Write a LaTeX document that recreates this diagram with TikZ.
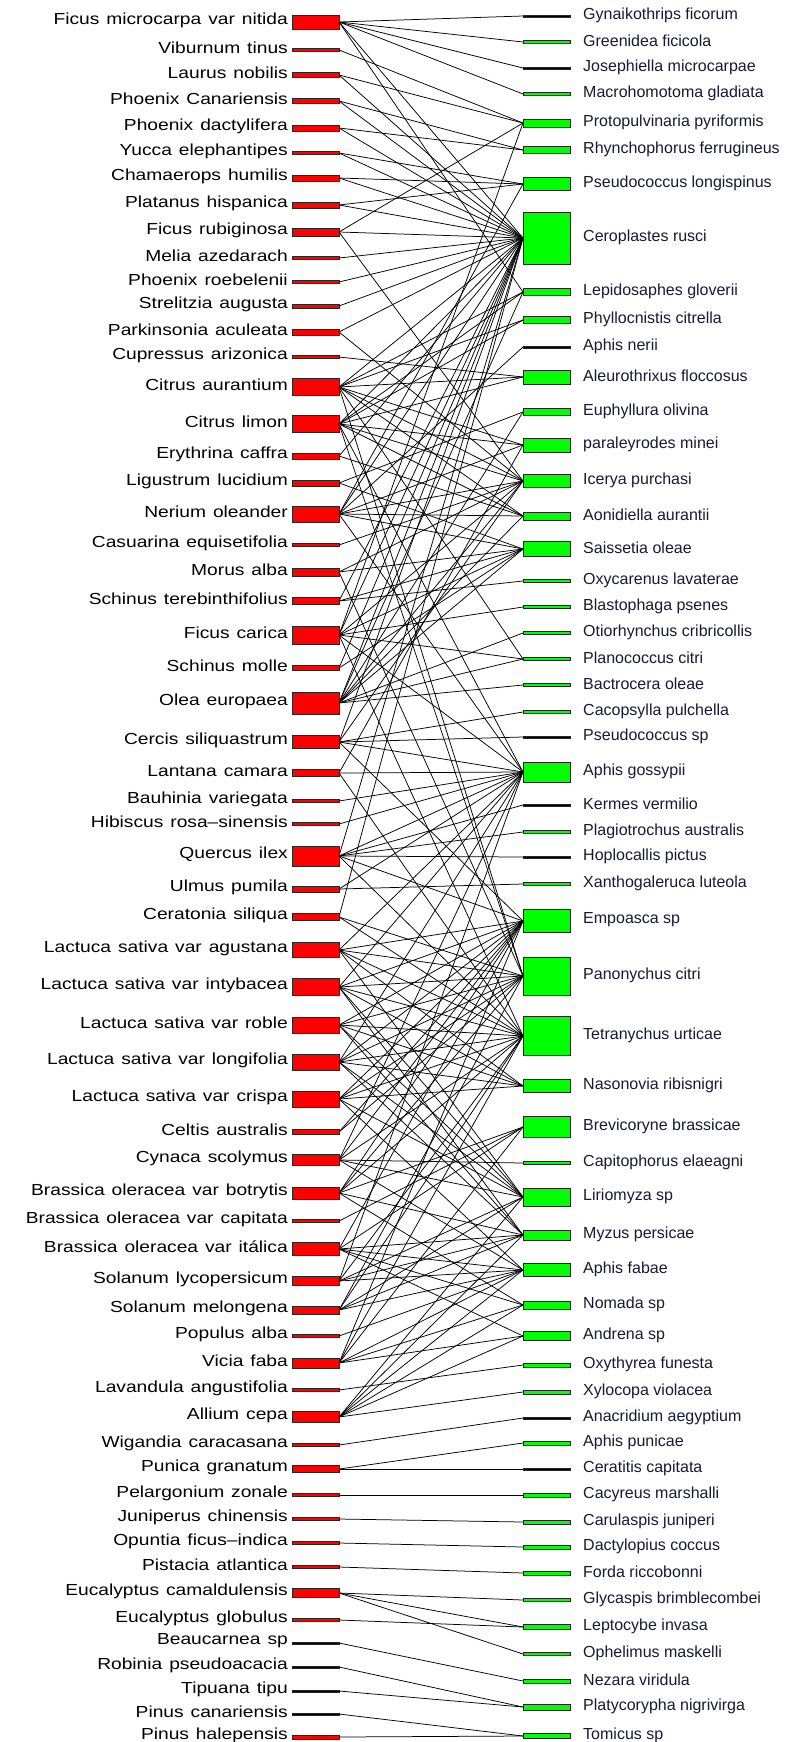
\documentclass[tikz,border=0pt]{standalone}
\usepackage{fontspec}
\newfontfamily\lfont[FakeStretch=1.2,WordSpace=1.3]{Liberation Sans}
\newfontfamily\rfont{Liberation Sans}
\definecolor{rtext}{RGB}{25,25,55}
\begin{document}
\begin{tikzpicture}[x=1pt,y=-1pt,
  box/.style={rectangle, draw=black!85, line width=0.7pt, inner sep=0pt, outer sep=0pt, minimum width=47pt},
  ll/.style={anchor=east, inner sep=0pt, font=\lfont\fontsize{16}{18}\selectfont},
  rl/.style={anchor=west, inner sep=0pt, text=rtext, font=\rfont\fontsize{16}{18}\selectfont},
  edge/.style={draw=black, line width=0.75pt}]
\fill[white] (0,0) rectangle (785,1742);
\useasboundingbox (0,0) rectangle (785,1742);
% left nodes
\foreach \n/\y/\h/\c/\t in {
FMi/22/14/red/Ficus microcarpa var nitida,
Vib/50/3.5/red/Viburnum tinus,
Lau/75/4.5/red/Laurus nobilis,
PCa/101/5/red/Phoenix Canariensis,
PDa/128/6/red/Phoenix dactylifera,
Yuc/153/3.5/red/Yucca elephantipes,
Cha/178/6/red/Chamaerops humilis,
Pla/205/6/red/Platanus hispanica,
FRu/232/8/red/Ficus rubiginosa,
Mel/258/3.5/red/Melia azedarach,
PRo/282/3.5/red/Phoenix roebelenii,
Str/306/4/red/Strelitzia augusta,
Par/332/6/red/Parkinsonia aculeata,
Cup/357/3.5/red/Cupressus arizonica,
CAu/387/17/red/Citrus aurantium,
CLi/424/17/red/Citrus limon,
Ery/456/6/red/Erythrina caffra,
Lig/483/6/red/Ligustrum lucidium,
Ner/514/16/red/Nerium oleander,
Cas/545/3.5/red/Casuarina equisetifolia,
Mor/572/8/red/Morus alba,
STe/601/7/red/Schinus terebinthifolius,
FCa/635/18/red/Ficus carica,
SMo/668/5/red/Schinus molle,
Ole/703/22/red/Olea europaea,
Cer/742/13/red/Cercis siliquastrum,
Lan/773/7/red/Lantana camara,
Bau/801/3.5/red/Bauhinia variegata,
Hib/824/3.5/red/Hibiscus rosa–sinensis,
Que/856/20/red/Quercus ilex,
Ulm/889/6/red/Ulmus pumila,
Cet/917/7/red/Ceratonia siliqua,
LAg/950/15/red/Lactuca sativa var agustana,
LIn/987/17/red/Lactuca sativa var intybacea,
LRo/1025/16/red/Lactuca sativa var roble,
LLo/1062/16/red/Lactuca sativa var longifolia,
LCr/1099/16/red/Lactuca sativa var crispa,
Cel/1132/5/red/Celtis australis,
Cyn/1160/11/red/Cynaca scolymus,
BBo/1193/12/red/Brassica oleracea var botrytis,
BCa/1221/3/red/Brassica oleracea var capitata,
BIt/1249/13/red/Brassica oleracea var itálica,
SLy/1281/9/red/Solanum lycopersicum,
SMe/1310/8/red/Solanum melongena,
Pop/1336/3.5/red/Populus alba,
Vic/1363/10/red/Vicia faba,
Lav/1390/3.5/red/Lavandula angustifolia,
All/1417/11/red/Allium cepa,
Wig/1445/3/red/Wigandia caracasana,
Pun/1469/7/red/Punica granatum,
Pel/1495/3.5/red/Pelargonium zonale,
Jun/1519/3.5/red/Juniperus chinensis,
Opu/1543/3.5/red/Opuntia ficus–indica,
Pis/1567/3.5/red/Pistacia atlantica,
ECa/1593/9/red/Eucalyptus camaldulensis,
EGl/1620/3.5/red/Eucalyptus globulus,
Bea/1643/1.8/black/Beaucarnea sp,
Rob/1667/1.8/black/Robinia pseudoacacia,
Tip/1691/1.8/black/Tipuana tipu,
PCn/1714/1.8/black/Pinus canariensis,
PHa/1737/4/red/Pinus halepensis}{
  \node[box, fill=\c, minimum height=\h pt] (\n) at (315.5,\y) {};
  \node[ll] (\n-t) at (288,\y-2) {\t};
}
% right nodes
\foreach \n/\y/\h/\c/\t in {
rGyn/16/1.8/black/Gynaikothrips ficorum,
rGre/42/3/green/Greenidea ficicola,
rJos/68/1.8/black/Josephiella microcarpae,
rMac/94/3/green/Macrohomotoma gladiata,
rPro/123/8/green/Protopulvinaria pyriformis,
rRhy/150/7/green/Rhynchophorus ferrugineus,
rPsl/184/13/green/Pseudococcus longispinus,
rCer/238/52/green/Ceroplastes rusci,
rLep/292/7/green/Lepidosaphes gloverii,
rPhy/320/7/green/Phyllocnistis citrella,
rAnr/347/1.8/black/Aphis nerii,
rAle/377/14/green/Aleurothrixus floccosus,
rEup/412/7/green/Euphyllura olivina,
rPmi/445/14/green/paraleyrodes minei,
rIce/481/13/green/Icerya purchasi,
rAon/516/8/green/Aonidiella aurantii,
rSai/549/15/green/Saissetia oleae,
rOxc/581/3/green/Oxycarenus lavaterae,
rBla/607/3/green/Blastophaga psenes,
rOti/633/3/green/Otiorhynchus cribricollis,
rPci/659/3/green/Planococcus citri,
rBac/685/3/green/Bactrocera oleae,
rCac/712/3/green/Cacopsylla pulchella,
rPsp/737/1.8/black/Pseudococcus sp,
rAgo/772/20/green/Aphis gossypii,
rKer/805/1.8/black/Kermes vermilio,
rPlg/832/3/green/Plagiotrochus australis,
rHop/857/1.8/black/Hoplocallis pictus,
rXan/884/3/green/Xanthogaleruca luteola,
rEmp/921/23/green/Empoasca sp,
rPan/976/38/green/Panonychus citri,
rTet/1036/39/green/Tetranychus urticae,
rNas/1086/13/green/Nasonovia ribisnigri,
rBre/1127/21/green/Brevicoryne brassicae,
rCap/1163/3/green/Capitophorus elaeagni,
rLir/1197/18/green/Liriomyza sp,
rMyz/1235/10/green/Myzus persicae,
rAfa/1270/13/green/Aphis fabae,
rNom/1305/8/green/Nomada sp,
rAnd/1336/9/green/Andrena sp,
rOxt/1365/4/green/Oxythyrea funesta,
rXyl/1392/4/green/Xylocopa violacea,
rAna/1418/1.8/black/Anacridium aegyptium,
rApu/1443/4/green/Aphis punicae,
rCca/1469/1.8/black/Ceratitis capitata,
rCma/1495/4/green/Cacyreus marshalli,
rCju/1522/4/green/Carulaspis juniperi,
rDac/1547/4/green/Dactylopius coccus,
rFor/1573/4/green/Forda riccobonni,
rGly/1600/3/green/Glycaspis brimblecombei,
rLin/1627/5/green/Leptocybe invasa,
rOph/1654/3/green/Ophelimus maskelli,
rNez/1681/4/green/Nezara viridula,
rPla/1707/6/green/Platycorypha nigrivirga,
rTom/1736/5/green/Tomicus sp}{
  \node[box, fill=\c, minimum height=\h pt] (\n) at (546.5,\y) {};
  \node[rl] (\n-t) at (583,\y-1) {\t};
}
% links
\foreach \a/\b in {
FMi/rGyn, FMi/rGre, FMi/rJos, FMi/rMac, FMi/rCer, FMi/rLep,
Vib/rPro, Lau/rPro, Lau/rCer, PCa/rRhy, PCa/rCer, PDa/rRhy, PDa/rCer,
Yuc/rPsl, Yuc/rCer, Cha/rPsl, Cha/rCer, Pla/rPsl, Pla/rCer,
FRu/rPro, FRu/rCer, FRu/rIce, Mel/rCer, PRo/rCer, Str/rCer,
Par/rCer, Par/rIce, Cup/rAle,
CAu/rCer, CAu/rLep, CAu/rPhy, CAu/rAle, CAu/rPmi, CAu/rIce, CAu/rAon, CAu/rPci, CAu/rPan,
CLi/rCer, CLi/rLep, CLi/rPhy, CLi/rAle, CLi/rPmi, CLi/rIce, CLi/rAon, CLi/rAgo, CLi/rPan,
Ery/rAon, Ery/rCer, Lig/rSai, Lig/rEup,
Ner/rAnr, Ner/rCer, Ner/rPsl, Ner/rPmi, Ner/rIce, Ner/rAon, Ner/rSai, Ner/rAgo,
Cas/rIce, Mor/rIce, Mor/rSai, Mor/rPan, STe/rOxc, STe/rCer, STe/rSai,
FCa/rBla, FCa/rCer, FCa/rPro, FCa/rIce, FCa/rSai, FCa/rPci, FCa/rTet, FCa/rAgo,
SMo/rCer, SMo/rSai,
Ole/rCer, Ole/rEup, Ole/rSai, Ole/rAon, Ole/rIce, Ole/rOti, Ole/rPci, Ole/rBac, Ole/rLep,
Cer/rCac, Cer/rPsp, Cer/rCer, Cer/rIce, Cer/rAgo, Cer/rEmp,
Lan/rAgo, Lan/rTet, Lan/rPmi, Bau/rAgo, Hib/rAgo,
Que/rKer, Que/rPlg, Que/rHop, Que/rAgo, Que/rCer, Que/rEmp, Que/rTet,
Ulm/rXan, Ulm/rAgo, Cet/rCer, Cet/rPan, Cet/rTet,
LAg/rAgo, LAg/rEmp, LAg/rPan, LAg/rTet, LAg/rNas, LAg/rLir,
LIn/rAgo, LIn/rEmp, LIn/rPan, LIn/rTet, LIn/rNas, LIn/rLir, LIn/rMyz,
LRo/rEmp, LRo/rPan, LRo/rTet, LRo/rNas, LRo/rLir, LRo/rMyz,
LLo/rAgo, LLo/rEmp, LLo/rPan, LLo/rTet, LLo/rNas, LLo/rLir, LLo/rMyz,
LCr/rEmp, LCr/rPan, LCr/rTet, LCr/rNas, LCr/rLir, LCr/rAfa,
Cel/rEmp, Cel/rPan,
Cyn/rCap, Cyn/rAgo, Cyn/rTet, Cyn/rLir, Cyn/rAfa, Cyn/rEmp,
BBo/rBre, BBo/rMyz, BBo/rEmp, BBo/rTet, BBo/rPan, BBo/rNom,
BCa/rBre,
BIt/rBre, BIt/rMyz, BIt/rAfa, BIt/rEmp, BIt/rNom, BIt/rAnd,
SLy/rTet, SLy/rLir, SLy/rAgo, SLy/rMyz, SLy/rAfa,
SMe/rTet, SMe/rLir, SMe/rMyz, SMe/rAfa, SMe/rPan,
Pop/rAfa,
Vic/rAfa, Vic/rAnd, Vic/rNom, Vic/rTet, Vic/rEmp, Vic/rBre,
Lav/rOxt,
All/rXyl, All/rAnd, All/rNom, All/rAfa, All/rLir, All/rMyz,
Wig/rAna, Pun/rApu, Pun/rCca, Pel/rCma, Jun/rCju, Opu/rDac, Pis/rFor,
ECa/rGly, ECa/rLin, ECa/rOph, EGl/rLin,
Bea/rNez, Rob/rPla, Tip/rPla, PCn/rTom, PHa/rTom}{
  \draw[edge] (\a.east) -- (\b.west);
}
\end{tikzpicture}
\end{document}
